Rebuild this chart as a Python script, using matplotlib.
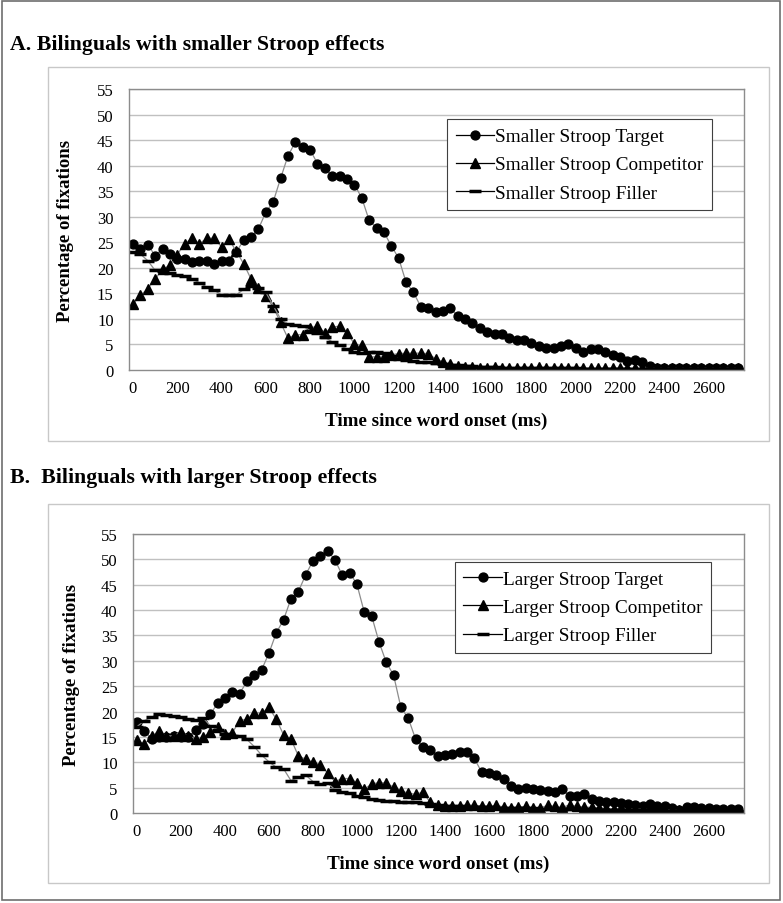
import numpy as np
import matplotlib as mpl
mpl.use("Agg")
import matplotlib.pyplot as plt
from matplotlib.patches import Rectangle

mpl.rcParams.update({
    "font.family": ["Liberation Serif", "DejaVu Serif"],
    "axes.linewidth": 1.0,
})

# time samples, 33.3 ms apart
time_ms = np.arange(83) * 100 / 3
xtick_vals = list(range(0, 2601, 200))
ytick_vals = list(range(0, 56, 5))

# panel A: bilinguals with smaller Stroop effects
small_target = [24.6, 23.7, 24.5, 22.4, 23.7, 22.7, 21.8, 21.8, 21.1, 21.4,
                21.4, 20.7, 21.4, 21.4, 23.1, 25.4, 26.0, 27.6, 30.9, 32.9,
                37.5, 41.9, 44.6, 43.7, 43.1, 40.4, 39.5, 38.0, 38.0, 37.3,
                36.3, 33.7, 29.3, 27.8, 27.0, 24.3, 21.9, 17.2, 15.2, 12.4,
                12.1, 11.3, 11.6, 12.2, 10.5, 10.0, 9.2, 8.2, 7.4, 7.1,
                7.0, 6.3, 5.9, 5.8, 5.2, 4.6, 4.4, 4.4, 4.6, 5.0,
                4.4, 3.6, 4.1, 4.2, 3.5, 2.9, 2.5, 1.8, 1.9, 1.6,
                0.8, 0.4, 0.3, 0.3, 0.3, 0.3, 0.3, 0.3, 0.3, 0.3,
                0.3, 0.3, 0.3]
small_comp = [12.9, 14.6, 15.9, 17.8, 19.7, 20.5, 22.6, 24.7, 25.8, 24.7,
              25.8, 25.8, 24.1, 25.6, 23.2, 20.8, 17.8, 16.0, 14.4, 12.3,
              9.3, 6.2, 6.9, 6.9, 8.2, 8.6, 7.3, 8.4, 8.6, 7.3,
              5.1, 4.8, 2.5, 2.6, 2.5, 3.0, 3.2, 3.3, 3.3, 3.3,
              3.2, 2.2, 1.6, 1.2, 0.8, 0.6, 0.5, 0.4, 0.4, 0.5,
              0.4, 0.4, 0.3, 0.4, 0.4, 0.5, 0.4, 0.4, 0.3, 0.4,
              0.4, 0.4, 0.4, 0.3, 0.4, 0.4, 0.4, 0.4, 0.3, 0.3,
              0.3, 0.3, 0.3, 0.3, 0.3, 0.3, 0.3, 0.3, 0.3, 0.3,
              0.3, 0.3, 0.3]
small_filler = [23.0, 22.7, 21.4, 19.5, 19.3, 18.9, 18.6, 18.4, 17.8, 17.1,
                16.2, 15.6, 14.7, 14.7, 14.7, 15.8, 16.4, 16.0, 15.2, 12.6,
                10.0, 9.0, 8.8, 8.6, 7.7, 7.2, 6.4, 5.5, 4.8, 4.1,
                3.5, 3.4, 3.6, 3.5, 3.4, 2.7, 2.2, 1.9, 1.7, 1.6,
                1.5, 1.3, 1.1, 1.0, 0.9, 0.8, 0.7, 0.6, 0.5, 0.5,
                0.4, 0.4, 0.4, 0.3, 0.3, 0.3, 0.3, 0.3, 0.3, 0.3,
                0.3, 0.2, 0.2, 0.2, 0.2, 0.2, 0.2, 0.2, 0.2, 0.2,
                0.2, 0.2, 0.2, 0.2, 0.2, 0.2, 0.2, 0.2, 0.2, 0.2,
                0.2, 0.2, 0.2]

# panel B: bilinguals with larger Stroop effects
large_target = [17.9, 16.2, 14.6, 14.9, 14.9, 15.1, 14.9, 14.9, 16.4, 17.5,
                19.5, 21.6, 22.7, 23.9, 23.5, 26.0, 27.2, 28.2, 31.5, 35.5,
                38.1, 42.2, 43.6, 46.9, 49.7, 50.6, 51.7, 49.9, 46.9, 47.4,
                45.1, 39.6, 38.9, 33.8, 29.7, 27.2, 20.8, 18.7, 14.6, 13.1,
                12.5, 11.3, 11.4, 11.6, 12.0, 12.0, 10.8, 8.1, 7.9, 7.5,
                6.8, 5.4, 4.7, 4.9, 4.7, 4.6, 4.4, 4.1, 4.7, 3.3,
                3.4, 3.7, 2.8, 2.4, 2.2, 2.1, 2.0, 1.8, 1.6, 1.4,
                1.8, 1.4, 1.3, 0.9, 0.5, 1.1, 1.1, 1.0, 0.9, 0.8,
                0.8, 0.8, 0.8]
large_comp = [14.3, 13.6, 15.1, 16.2, 15.2, 15.2, 16.0, 15.2, 14.6, 14.9,
              16.0, 16.9, 15.6, 15.8, 18.2, 18.5, 19.8, 19.7, 20.8, 18.5,
              15.4, 14.6, 11.3, 10.6, 10.0, 9.5, 7.9, 6.2, 6.8, 6.8,
              6.0, 4.7, 5.7, 6.0, 5.9, 5.1, 4.4, 3.9, 3.7, 4.1,
              2.1, 1.6, 1.4, 1.3, 1.4, 1.6, 1.5, 1.4, 1.3, 1.5,
              1.2, 1.0, 1.1, 1.3, 0.9, 1.0, 1.5, 1.3, 1.1, 1.6,
              1.3, 1.2, 1.1, 1.0, 0.9, 0.8, 0.9, 0.8, 0.7, 0.8,
              0.6, 0.7, 0.6, 0.5, 0.5, 0.0, 0.4, 0.4, 0.4, 0.3,
              0.3, 0.3, 0.3]
large_filler = [17.0, 18.2, 18.9, 19.6, 19.3, 19.1, 18.9, 18.5, 18.3, 18.8,
                17.2, 16.4, 15.6, 15.2, 15.1, 14.5, 13.1, 11.4, 10.1, 9.0,
                8.7, 6.4, 7.0, 7.5, 6.2, 5.7, 5.9, 4.6, 4.2, 3.9,
                3.4, 3.1, 2.8, 2.6, 2.4, 2.4, 2.2, 2.2, 2.1, 2.0,
                1.8, 1.6, 1.4, 1.3, 1.3, 1.2, 1.2, 1.1, 1.1, 1.0,
                1.0, 1.0, 0.9, 0.9, 0.9, 0.8, 0.8, 0.8, 0.8, 0.7,
                0.7, 0.7, 0.7, 0.6, 0.6, 0.6, 0.6, 0.5, 0.5, 0.5,
                0.5, 0.5, 0.4, 0.4, 0.4, 0.4, 0.4, 0.3, 0.3, 0.3,
                0.3, 0.3, 0.3]

W, H = 783, 904
fig = plt.figure(figsize=(W / 100, H / 100), dpi=100)

def px_axes(l, t, r, b):
    return fig.add_axes([l / W, 1 - b / H, (r - l) / W, (b - t) / H])

def frame(l, t, r, b, color, lw):
    fig.add_artist(Rectangle((l / W, 1 - b / H), (r - l) / W, (b - t) / H,
                             transform=fig.transFigure, fill=False,
                             edgecolor=color, linewidth=lw))

frame(2, 2, 780, 901, "#6e6e6e", 1.2)
frame(48, 68, 769, 442, "#c8c8c8", 1.0)
frame(48, 505, 769, 884, "#c8c8c8", 1.0)

panels = [
    ((129, 90, 744, 371), "Smaller", small_target, small_comp, small_filler,
     (0.948, 0.893), -0.104),
    ((133, 535, 744, 814), "Larger", large_target, large_comp, large_filler,
     (0.946, 0.90), -0.1),
]

for (l, t, r, b), grp, tgt, comp, fil, leg_anchor, ylab_x in panels:
    ax = px_axes(l, t, r, b)
    for yv in ytick_vals[1:]:
        ax.axhline(yv, color="#c0c0c0", linewidth=1.0, zorder=0)
    line_kw = dict(color="#8c8c8c", linewidth=0.9, markerfacecolor="black",
                   markeredgecolor="black")
    ax.plot(time_ms, tgt, marker="o", markersize=6.4, label=f"{grp} Stroop Target", **line_kw)
    ax.plot(time_ms, comp, marker="^", markersize=7.5, label=f"{grp} Stroop Competitor", **line_kw)
    ax.plot(time_ms, fil, marker="_", markersize=8.5, markeredgewidth=2.5,
            label=f"{grp} Stroop Filler", **line_kw)
    ax.set_xlim(-18, 2760)
    ax.set_ylim(0, 55)
    ax.set_xticks(xtick_vals)
    ax.set_yticks(ytick_vals)
    ax.tick_params(length=0, labelsize=12)
    ax.tick_params(axis="y", pad=11)
    ax.tick_params(axis="x", pad=7)
    for s in ax.spines.values():
        s.set_color("#8c8c8c")
    ax.set_xlabel("Time since word onset (ms)", fontsize=13.8, fontweight="bold")
    ax.xaxis.set_label_coords(0.5, -0.15)
    ax.text(ylab_x, 0.5, "Percentage of fixations",
            transform=ax.transAxes, rotation=90, ha="center", va="center",
            fontsize=13.5, fontweight="bold")
    leg = ax.legend(loc="upper right", bbox_to_anchor=leg_anchor, fontsize=13.9,
                    fancybox=False, framealpha=1, edgecolor="#404040",
                    handlelength=2.0, handletextpad=0.05, labelspacing=0.55,
                    borderpad=0.45, borderaxespad=0)
    leg.get_frame().set_linewidth(0.8)
    for h in leg.get_lines():
        h.set_color("black")

fig.text(10 / W, 1 - 45 / H, "A. Bilinguals with smaller Stroop effects",
         fontsize=15.7, fontweight="bold", va="center", ha="left")
fig.text(10 / W, 1 - 478 / H, "B.  Bilinguals with larger Stroop effects",
         fontsize=15.7, fontweight="bold", va="center", ha="left")

fig.savefig("out.png", dpi=100)
